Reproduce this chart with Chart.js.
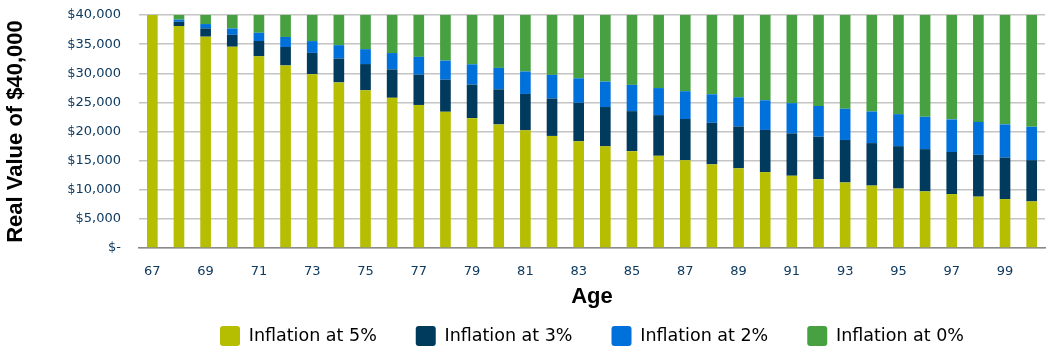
<!DOCTYPE html>
<html>
<head>
<meta charset="utf-8">
<script src="https://cdn.jsdelivr.net/npm/chart.js@4.4.1/dist/chart.umd.min.js"></script>
<style>
  html, body { margin: 0; padding: 0; background: #ffffff; }
  #wrap { width: 1050px; height: 356px; position: relative; }
</style>
</head>
<body>
<div id="wrap"><canvas id="c" width="1050" height="356"></canvas></div>
<script>
const ages = [67,68,69,70,71,72,73,74,75,76,77,78,79,80,81,82,83,84,85,86,87,88,89,90,91,92,93,94,95,96,97,98,99,100];

// Real value of $40,000 at each age, per inflation rate
const realAt5 = [40000,38095,36281,34554,32908,31341,29849,28427,27074,25784,24557,23387,22273,21213,20203,19241,18324,17452,16621,15829,15076,14358,13674,13023,12403,11812,11250,10714,10204,9718,9255,8814,8395,7995];
const realAt3 = [40000,38835,37704,36606,35539,34504,33499,32524,31576,30657,29764,28897,28055,27238,26445,25674,24927,24201,23496,22811,22147,21502,20876,20268,19677,19104,18548,18008,17483,16974,16479,15999,15533,15081];
const realAt2 = [40000,39216,38447,37693,36954,36229,35519,34822,34140,33470,32814,32171,31540,30921,30315,29721,29138,28567,28006,27457,26919,26391,25874,25366,24869,24381,23903,23434,22975,22524,22083,21650,21225,20809];
const realAt0 = [40000,40000,40000,40000,40000,40000,40000,40000,40000,40000,40000,40000,40000,40000,40000,40000,40000,40000,40000,40000,40000,40000,40000,40000,40000,40000,40000,40000,40000,40000,40000,40000,40000,40000];

const seriesNames = ['Inflation at 5%', 'Inflation at 3%', 'Inflation at 2%', 'Inflation at 0%'];
const yTicks = [0,5000,10000,15000,20000,25000,30000,35000,40000];

const colors = ['#b5be00', '#003a5d', '#0071db', '#47a140'];

// stacked segments built from the real values
const seg1 = realAt5.slice();
const seg2 = realAt3.map((v, i) => v - realAt5[i]);
const seg3 = realAt2.map((v, i) => v - realAt3[i]);
const seg4 = realAt0.map((v, i) => v - realAt2[i]);
const segs = [seg1, seg2, seg3, seg4];

const tickColor = '#0f3b60';

new Chart(document.getElementById('c'), {
  type: 'bar',
  data: {
    labels: ages.map(String),
    datasets: segs.map((d, i) => ({
      label: seriesNames[i],
      data: d,
      backgroundColor: colors[i],
      borderWidth: 0,
      barPercentage: 0.4,
      categoryPercentage: 1.0
    }))
  },
  options: {
    responsive: false,
    animation: false,
    devicePixelRatio: 1,
    layout: { padding: { top: 15, right: 5, left: 0, bottom: 0 } },
    plugins: {
      tooltip: { enabled: false },
      legend: {
        position: 'bottom',
        fullSize: false,
        labels: {
          boxWidth: 20,
          boxHeight: 20,
          useBorderRadius: true,
          borderRadius: 3,
          padding: 39,
          color: '#000000',
          font: { family: '"DejaVu Sans", sans-serif', size: 17.5 }
        }
      }
    },
    scales: {
      x: {
        stacked: true,
        grid: { display: false, drawTicks: false },
        border: { display: true, color: '#8a8a8a', width: 1.5 },
        ticks: {
          autoSkip: false,
          maxRotation: 0,
          minRotation: 0,
          padding: 16,
          color: tickColor,
          font: { family: '"DejaVu Sans", sans-serif', size: 13 },
          callback: function(val, idx) { return idx % 2 === 0 ? this.getLabelForValue(val) : ''; }
        },
        title: {
          display: true,
          text: 'Age',
          color: '#000000',
          font: { family: '"Liberation Sans", Arial, sans-serif', size: 22, weight: 'bold' },
          padding: { top: 0, bottom: -23 }
        },
        afterFit: (s) => { s.height = 39; }
      },
      y: {
        stacked: true,
        min: 0,
        max: 40000,
        afterBuildTicks: (s) => { s.ticks = yTicks.map(v => ({ value: v })); },
        grid: { color: '#c4c4c4', lineWidth: 1.5, drawTicks: false },
        border: { display: false },
        ticks: {
          padding: 18,
          color: tickColor,
          font: { family: '"DejaVu Sans", sans-serif', size: 13 },
          callback: (v) => v === 0 ? '$-' : '$' + v.toLocaleString('en-US')
        },
        title: {
          display: true,
          text: 'Real Value of $40,000',
          color: '#000000',
          font: { family: '"Liberation Sans", Arial, sans-serif', size: 22, weight: 'bold' },
          padding: { top: 3, bottom: 0 }
        },
        afterFit: (s) => { s.width = 139; s.paddingTop = 0; s.paddingBottom = 0; }
      }
    }
  }
});
</script>
</body>
</html>
